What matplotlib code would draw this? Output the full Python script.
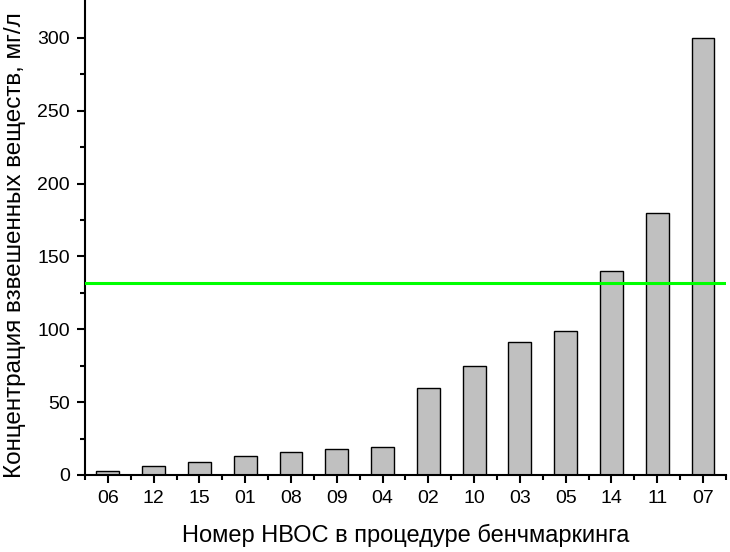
import matplotlib
matplotlib.use("Agg")
import matplotlib.pyplot as plt
import numpy as np

plt.rcParams['font.family'] = ['Liberation Sans', 'DejaVu Sans']

# номера НВОС и концентрации (мг/л)
labels = ["06", "12", "15", "01", "08", "09", "04", "02", "10", "03", "05", "14", "11", "07"]
values = [3, 6, 9, 13, 16, 18, 19, 60, 75, 91, 99, 140, 180, 300]
threshold = 132

fig = plt.figure(figsize=(7.3, 5.52), dpi=100)
ax = fig.add_axes([0.1164, 0.1395, 0.878, 0.858])

x = np.arange(len(labels))
ax.bar(x, values, width=0.5, color="#c0c0c0", edgecolor="black", linewidth=1.0, zorder=2)
ax.axhline(threshold, color="#00ff00", linewidth=2.2, zorder=3)

ax.set_xlim(-0.5, len(labels) - 0.5)
ax.set_ylim(0, 325)
ax.set_xticks(x)
ax.set_xticklabels(labels)
ax.set_xticks(np.arange(-0.5, len(labels), 1.0), minor=True)
ax.set_yticks([0, 50, 100, 150, 200, 250, 300])
ax.set_yticks(np.arange(25, 325, 50), minor=True)

for s in ["top", "right"]:
    ax.spines[s].set_visible(False)
for s in ["left", "bottom"]:
    ax.spines[s].set_linewidth(1.5)

ax.tick_params(axis="both", which="major", direction="out", length=6, width=1.5, labelsize=14, pad=5)
ax.tick_params(axis="both", which="minor", direction="out", length=3.5, width=1.5)

ax.set_xlabel("Номер НВОС в процедуре бенчмаркинга", fontsize=17, labelpad=12)
ax.set_ylabel("Концентрация взвешенных веществ, мг/л", fontsize=17.5, labelpad=8)
ax.yaxis.label.set_y(0.485)

fig.savefig("out.png", dpi=100)
